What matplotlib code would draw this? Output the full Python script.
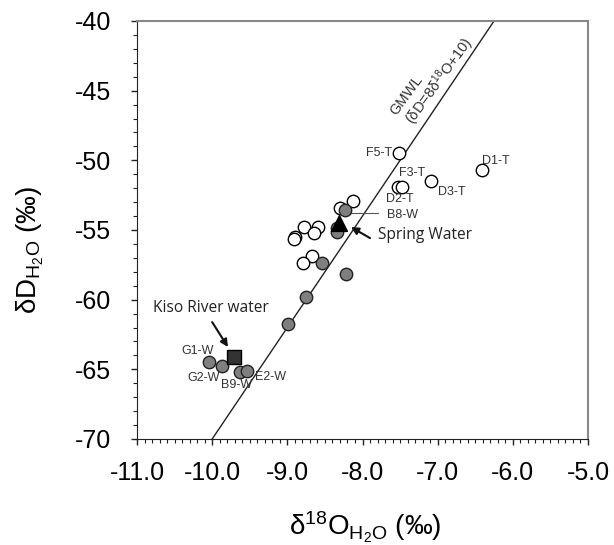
import matplotlib
matplotlib.use("Agg")
import matplotlib.pyplot as plt
import numpy as np

plt.rcParams['font.family'] = ['Liberation Sans', 'DejaVu Sans']
plt.rcParams['mathtext.fontset'] = 'custom'
plt.rcParams['mathtext.rm'] = 'Liberation Sans'
plt.rcParams['mathtext.it'] = 'Liberation Sans'
plt.rcParams['axes.unicode_minus'] = False

# Data (delta18O, deltaD)
white_x = [-7.52, -7.53, -7.48, -7.09, -6.41, -8.13, -8.30, -8.78, -8.59, -8.65, -8.90, -8.91, -8.67, -8.79]
white_y = [-49.48, -51.92, -51.92, -51.49, -50.70, -52.92, -53.42, -54.79, -54.79, -55.22, -55.50, -55.65, -56.87, -57.37]
gray_x = [-8.23, -8.34, -8.34, -8.54, -8.22, -8.75, -8.99, -10.04, -9.87, -9.63, -9.54]
gray_y = [-53.57, -54.86, -55.15, -57.37, -58.16, -59.81, -61.75, -64.48, -64.77, -65.20, -65.13]
spring_x = [-8.31]
spring_y = [-54.5]
river_x = [-9.71]
river_y = [-64.12]

gmwl_x = np.array([-11.0, -5.0])
gmwl_slope = 8
gmwl_intercept = 10

xticks = np.arange(-11.0, -4.99, 1.0)
xticklabels = ['-11.0', '-10.0', '-9.0', '-8.0', '-7.0', '-6.0', '-5.0']
yticks = [-70, -65, -60, -55, -50, -45, -40]

fig = plt.figure(figsize=(6.14, 5.45), dpi=100)
ax = fig.add_axes([137/614, 1-439/545, (588-137)/614, (439-21)/545])

ax.plot(gmwl_x, gmwl_slope*gmwl_x + gmwl_intercept, color='#222222', lw=1.0, zorder=1)

ax.scatter(white_x, white_y, s=80, facecolor='white', edgecolor='black', lw=1.0, zorder=3)
ax.scatter(gray_x, gray_y, s=80, facecolor='#7f7f7f', edgecolor='#222222', lw=1.0, zorder=3)
ax.scatter(spring_x, spring_y, s=130, marker='^', facecolor='black', edgecolor='black', zorder=4)
ax.scatter(river_x, river_y, s=110, marker='s', facecolor='#333333', edgecolor='black', lw=1.0, zorder=4)

lab_kw = dict(fontsize=9, color='#333333', va='center', zorder=5)
ax.text(-7.61, -49.48, 'F5-T', ha='right', **lab_kw)
ax.text(-7.34, -50.90, 'F3-T', ha='center', **lab_kw)
ax.text(-6.81, -52.28, 'D3-T', ha='center', **lab_kw)
ax.text(-6.23, -50.05, 'D1-T', ha='center', **lab_kw)
ax.text(-7.50, -52.78, 'D2-T', ha='center', **lab_kw)
ax.text(-7.68, -53.93, 'B8-W', ha='left', **lab_kw)
ax.plot([-8.21, -7.80], [-53.78, -53.78], color='#555555', lw=0.8, zorder=2)
ax.text(-10.19, -63.69, 'G1-W', ha='center', **lab_kw)
ax.text(-10.11, -65.63, 'G2-W', ha='center', **lab_kw)
ax.text(-9.67, -66.13, 'B9-W', ha='center', **lab_kw)
ax.text(-9.22, -65.56, 'E2-W', ha='center', **lab_kw)

arrow_kw = dict(arrowstyle='-|>', color='#111111', lw=1.5, mutation_scale=11, shrinkA=0, shrinkB=0)
ax.text(-7.80, -55.36, 'Spring Water', fontsize=11.2, family='Open Sans', color='#222222',
        ha='left', va='center', zorder=5)
ax.annotate('', xy=(-8.154, -54.79), xytext=(-7.90, -55.58), arrowprops=arrow_kw, zorder=5)
ax.text(-10.02, -60.6, 'Kiso River water', fontsize=11.2, family='Open Sans', color='#222222',
        ha='center', va='center', zorder=5)
ax.annotate('', xy=(-9.79, -63.40), xytext=(-10.0, -61.61), arrowprops=arrow_kw, zorder=5)

gm_kw = dict(rotation=54, ha='center', va='center_baseline', fontsize=10.5, color='#333333',
             rotation_mode='anchor')
ax.text(-7.435, -45.25, 'GMWL', **gm_kw)
ax.text(-7.01, -44.23, '(δD=8δ$^{18}$O+10)', **gm_kw)

ax.set_xlim(-11.0, -5.0)
ax.set_ylim(-70, -40)
ax.set_xticks(xticks)
ax.set_xticklabels(xticklabels)
ax.set_yticks(yticks)
ax.set_yticklabels([str(v) for v in yticks])
ax.set_xticks(np.arange(-11.0, -4.99, 0.1), minor=True)
ax.set_yticks(np.arange(-70, -39, 1), minor=True)
ax.tick_params(axis='both', which='major', direction='out', length=4.5, width=1.0, labelsize=18,
               color='#222222')
ax.tick_params(axis='both', which='minor', direction='out', length=3, width=0.8, color='#222222')
ax.tick_params(axis='x', pad=11)
ax.tick_params(axis='y', pad=14)

ax.spines['left'].set_color('#222222')
ax.spines['bottom'].set_color('#222222')
ax.spines['top'].set_color('#888888')
ax.spines['right'].set_color('#888888')
ax.spines['top'].set_linewidth(1.5)
ax.spines['right'].set_linewidth(1.5)

fig.text(365/614, 1-527/545, r'δ$^{18}$O$_{\mathrm{H_2O}}$ (‰)', ha='center', va='center', fontsize=20)
fig.text(30/614, 1-250/545, r'δD$_{\mathrm{H_2O}}$ (‰)', ha='center', va='center', fontsize=20,
         rotation=90)

fig.savefig('out.png', dpi=100)
